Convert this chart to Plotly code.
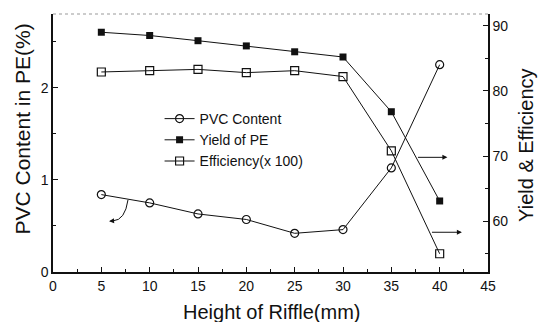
import plotly.graph_objects as go

# ---- data ----
height_mm = [5, 10, 15, 20, 25, 30, 35, 40]
pvc_content = [0.84, 0.75, 0.63, 0.57, 0.42, 0.46, 1.13, 2.25]
yield_pe = [89.0, 88.5, 87.7, 86.9, 86.0, 85.2, 76.8, 63.1]
efficiency = [82.9, 83.1, 83.3, 82.8, 83.1, 82.2, 70.8, 55.0]

x_ticks = [0, 5, 10, 15, 20, 25, 30, 35, 40, 45]
left_ticks = [0, 1, 2]
right_ticks = [60, 70, 80, 90]

FONT = "Arial, Liberation Sans, sans-serif"
BLACK = "#111111"

fig = go.Figure()

fig.add_trace(go.Scatter(
    x=height_mm, y=pvc_content, name="PVC Content", mode="lines+markers",
    line=dict(color=BLACK, width=1),
    marker=dict(symbol="circle-open", size=8, color=BLACK, line=dict(width=1.2)),
    yaxis="y"))
fig.add_trace(go.Scatter(
    x=height_mm, y=yield_pe, name="Yield of PE", mode="lines+markers",
    line=dict(color=BLACK, width=1),
    marker=dict(symbol="square", size=7, color=BLACK),
    yaxis="y2"))
fig.add_trace(go.Scatter(
    x=height_mm, y=efficiency, name="Efficiency(x 100)", mode="lines+markers",
    line=dict(color=BLACK, width=1),
    marker=dict(symbol="square-open", size=8, color=BLACK, line=dict(width=1.2)),
    yaxis="y2"))

axis_common = dict(
    showline=True, linecolor=BLACK, linewidth=1.5, ticks="inside",
    ticklen=5, tickwidth=1.2, tickcolor=BLACK, showgrid=False, zeroline=False,
    tickfont=dict(family=FONT, size=14, color=BLACK),
)

fig.update_layout(
    width=539, height=322,
    margin=dict(l=53, r=51, t=14, b=50),
    paper_bgcolor="white", plot_bgcolor="white",
    font=dict(family=FONT, color=BLACK),
    xaxis=dict(range=[0, 45], tickvals=x_ticks, ticktext=[str(v) for v in x_ticks],
               minor=dict(dtick=2.5, tick0=0, ticks="inside", ticklen=3, tickcolor=BLACK),
               **axis_common),
    yaxis=dict(range=[0, 2.8], tickvals=left_ticks, ticktext=[str(v) for v in left_ticks],
               minor=dict(dtick=0.5, tick0=0, ticks="inside", ticklen=3, tickcolor=BLACK),
               **axis_common),
    yaxis2=dict(range=[52.2, 91.8], overlaying="y", side="right",
                tickvals=right_ticks, ticktext=[str(v) for v in right_ticks],
                minor=dict(dtick=5, tick0=0, ticks="inside", ticklen=3, tickcolor=BLACK),
                **axis_common),
    showlegend=True,
    legend=dict(x=0.245, y=0.655, xanchor="left", yanchor="top",
                bgcolor="rgba(0,0,0,0)", font=dict(family=FONT, size=14, color=BLACK),
                itemwidth=30, tracegroupgap=0),
)

# axis titles
fig.add_annotation(text="PVC Content in PE(%)", xref="paper", yref="paper",
                   x=-0.069, y=0.556, textangle=-90, showarrow=False,
                   xanchor="center", yanchor="middle",
                   font=dict(family=FONT, size=21, color=BLACK))
fig.add_annotation(text="Yield & Efficiency", xref="paper", yref="paper",
                   x=1.087, y=0.492, textangle=-90, showarrow=False,
                   xanchor="center", yanchor="middle",
                   font=dict(family=FONT, size=20, color=BLACK))
fig.add_annotation(text="Height of Riffle(mm)", xref="paper", yref="paper",
                   x=0.502, y=-0.155, showarrow=False,
                   xanchor="center", yanchor="middle",
                   font=dict(family=FONT, size=20, color=BLACK))

# faint top frame line
fig.add_shape(type="line", xref="paper", yref="paper", x0=0, x1=1, y0=1, y1=1,
              line=dict(color="#999999", width=1, dash="dot"))

# right-pointing arrows (to right axis)
fig.add_annotation(xref="x", yref="y2", axref="x", ayref="y2",
                   x=40.8, y=69.8, ax=37.6, ay=69.8, text="", showarrow=True,
                   arrowhead=2, arrowsize=1, arrowwidth=1, arrowcolor=BLACK)
fig.add_annotation(xref="x", yref="y2", axref="x", ayref="y2",
                   x=42.3, y=58.3, ax=39.05, ay=58.3, text="", showarrow=True,
                   arrowhead=2, arrowsize=1, arrowwidth=1, arrowcolor=BLACK)

# curved arrow to left axis
fig.add_shape(type="path", xref="x", yref="y",
              path="M 7.76,0.783 Q 7.45,0.56 6.2,0.555",
              line=dict(color=BLACK, width=1))
fig.add_annotation(xref="x", yref="y", axref="x", ayref="y",
                   x=5.8, y=0.552, ax=6.3, ay=0.556, text="", showarrow=True,
                   arrowhead=2, arrowsize=1, arrowwidth=1, arrowcolor=BLACK)

fig.write_html("out.html")
